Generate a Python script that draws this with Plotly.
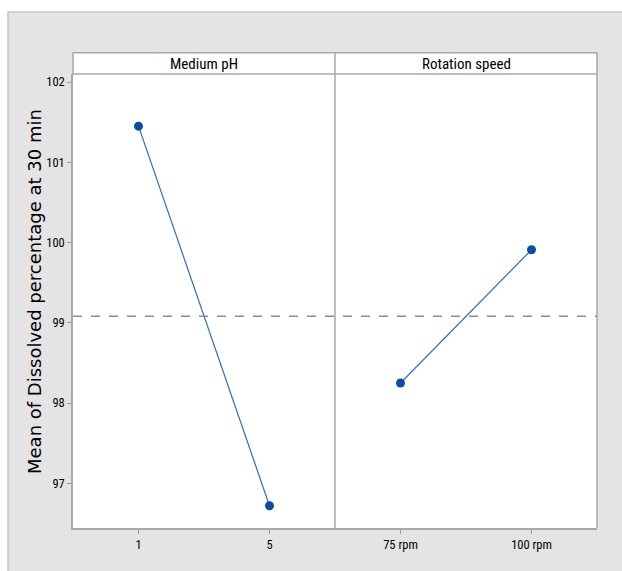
import plotly.graph_objects as go

# Main effects means for dissolved percentage at 30 min
ph_levels = ["1", "5"]
ph_means = [101.45, 96.72]
speed_levels = ["75 rpm", "100 rpm"]
speed_means = [98.25, 99.91]
panel_titles = ["Medium pH", "Rotation speed"]
y_ticks = [97, 98, 99, 100, 101, 102]

grand_mean = (sum(ph_means) + sum(speed_means)) / 4

W, H = 622, 571
L, R, T, B = 73, 25, 74, 43
pw, ph = W - L - R, H - T - B

def px_x(v):
    return (v - L) / pw

def px_y(v):
    return 1 - (v - T) / ph

line_col = "#2f6fbf"
mark_col = "#0a4f9f"
frame_col = "#a8a8a8"
narrow = "Liberation Sans Narrow, Arial Narrow, Roboto Condensed, Liberation Sans"
tick_font = dict(family=narrow, size=12.5, color="#000000")

fig = go.Figure()
fig.add_trace(go.Scatter(x=ph_levels, y=ph_means, mode="lines+markers",
                         line=dict(color=line_col, width=1.2),
                         marker=dict(color=mark_col, size=9),
                         xaxis="x", yaxis="y", showlegend=False))
fig.add_trace(go.Scatter(x=speed_levels, y=speed_means, mode="lines+markers",
                         line=dict(color=line_col, width=1.2),
                         marker=dict(color=mark_col, size=9),
                         xaxis="x2", yaxis="y", showlegend=False))

shapes = [
    # outer gray panel
    dict(type="rect", xref="paper", yref="paper", layer="below",
         x0=px_x(8), x1=px_x(640), y0=px_y(12), y1=px_y(600),
         fillcolor="#e4e4e4", line=dict(color="#c6c6c6", width=1.5)),
    # white plotting region
    dict(type="rect", xref="paper", yref="paper", layer="below",
         x0=0, x1=1, y0=0, y1=1, fillcolor="white", line=dict(width=0)),
    # strip header
    dict(type="rect", xref="paper", yref="paper", layer="below",
         x0=0, x1=1, y0=1, y1=px_y(52.7), fillcolor="white",
         line=dict(color=frame_col, width=1.5)),
    # panel divider
    dict(type="line", xref="paper", yref="paper", layer="above",
         x0=0.5, x1=0.5, y0=0, y1=px_y(52.7), line=dict(color=frame_col, width=1.5)),
    # right frame
    dict(type="line", xref="paper", yref="paper", layer="above",
         x0=1, x1=1, y0=0, y1=1, line=dict(color=frame_col, width=1.5)),
    # grand mean reference line
    dict(type="line", xref="paper", yref="y", layer="above",
         x0=0, x1=1, y0=grand_mean, y1=grand_mean,
         line=dict(color="#8c8c8c", width=1.5, dash="dash")),
]

annotations = [
    dict(text=panel_titles[0], xref="paper", yref="paper", x=0.25, y=px_y(63.5),
         showarrow=False, xanchor="center", yanchor="middle",
         font=dict(family=narrow, size=15, color="#000000")),
    dict(text=panel_titles[1], xref="paper", yref="paper", x=0.75, y=px_y(63.5),
         showarrow=False, xanchor="center", yanchor="middle",
         font=dict(family=narrow, size=15, color="#000000")),
    dict(text="Mean of Dissolved percentage at 30 min", xref="paper", yref="paper",
         x=px_x(34), y=px_y(292), textangle=-90, showarrow=False,
         xanchor="center", yanchor="middle",
         font=dict(family="DejaVu Sans", size=18, color="#000000")),
]

axis_common = dict(showgrid=False, zeroline=False, ticks="outside", ticklen=4,
                   tickcolor="#999999", tickwidth=1, tickfont=tick_font,
                   showline=True, linecolor=frame_col, linewidth=1.5)

fig.update_layout(
    width=W, height=H,
    margin=dict(l=L, r=R, t=T, b=B),
    paper_bgcolor="white", plot_bgcolor="rgba(0,0,0,0)",
    shapes=shapes, annotations=annotations,
    xaxis=dict(domain=[0, 0.5], type="category", range=[-0.5, 1.5], anchor="y", **axis_common),
    xaxis2=dict(domain=[0.5, 1], type="category", range=[-0.5, 1.5], anchor="y", **axis_common),
    yaxis=dict(range=[96.443, 102.1], tickvals=y_ticks, anchor="x", **axis_common),
)

fig.write_html("out.html")
